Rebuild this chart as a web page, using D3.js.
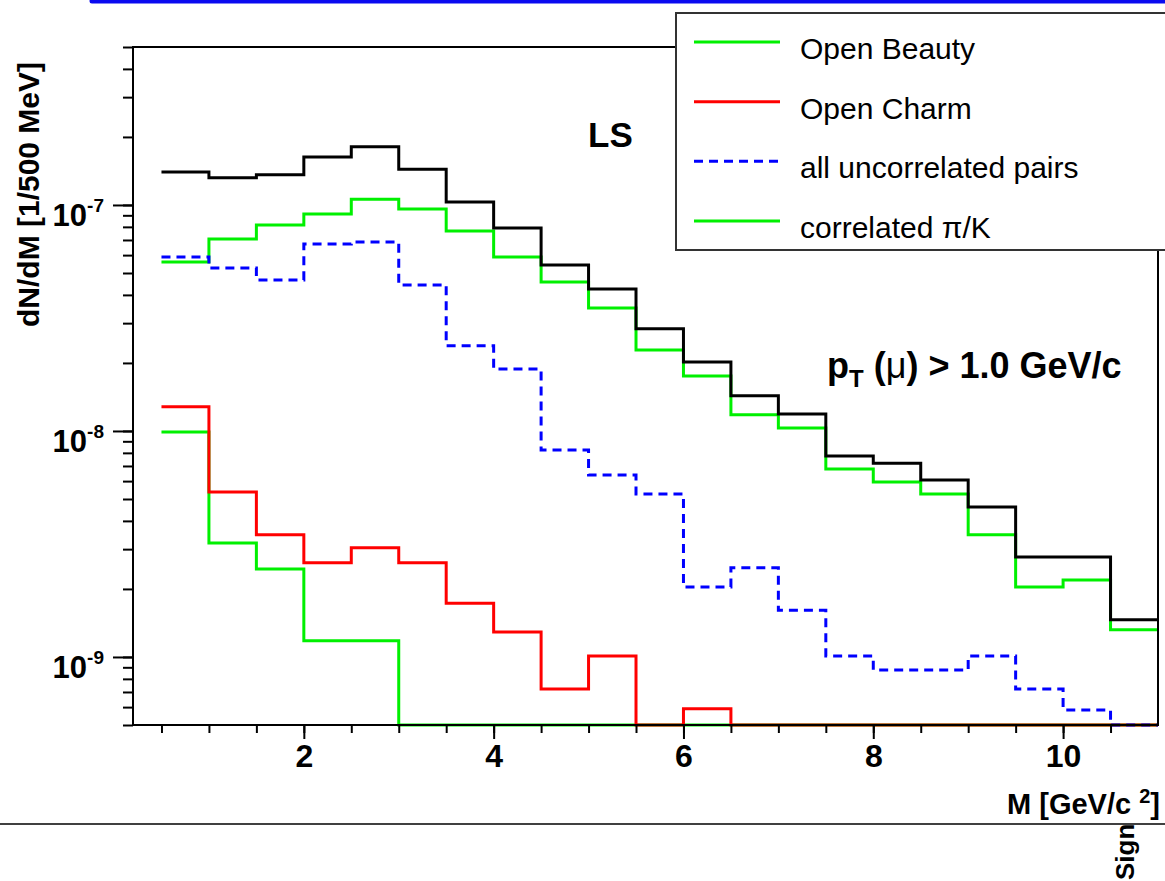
<!DOCTYPE html>
<html>
<head>
<meta charset="utf-8">
<script src="https://cdn.jsdelivr.net/npm/d3@7"></script>
<style>
	body { margin: 0; background: #fff; }
	svg { display: block; font-family: "Liberation Sans", Arial, sans-serif; }
	.axis path, .axis line { stroke: #000; stroke-width: 2; }
</style>
</head>
<body>
<div id="chart"></div>
<script>
// bin lower edges, bin width 0.5 GeV/c^2
const binLow = [0.5, 1, 1.5, 2, 2.5, 3, 3.5, 4, 4.5, 5, 5.5, 6, 6.5, 7, 7.5, 8, 8.5, 9, 9.5, 10, 10.5];
const binHigh = 11;

const total = [1.40e-7, 1.32e-7, 1.36e-7, 1.63e-7, 1.81e-7, 1.44e-7, 1.03e-7, 7.9e-8, 5.43e-8, 4.25e-8,
	2.83e-8, 2.02e-8, 1.43e-8, 1.19e-8, 7.75e-9, 7.2e-9, 6.07e-9, 4.61e-9, 2.77e-9, 2.77e-9, 1.46e-9];
const openBeauty = [5.6e-8, 7.07e-8, 8.16e-8, 9.13e-8, 1.06e-7, 9.6e-8, 7.67e-8, 5.89e-8, 4.56e-8, 3.5e-8,
	2.28e-8, 1.75e-8, 1.18e-8, 1.03e-8, 6.79e-9, 5.95e-9, 5.26e-9, 3.47e-9, 2.04e-9, 2.19e-9, 1.32e-9];
const uncorrelated = [5.89e-8, 5.26e-8, 4.66e-8, 6.72e-8, 6.86e-8, 4.43e-8, 2.38e-8, 1.88e-8, 8.24e-9, 6.39e-9,
	5.26e-9, 2.04e-9, 2.48e-9, 1.61e-9, 1.01e-9, 8.76e-10, 8.76e-10, 1.01e-9, 7.22e-10, 5.83e-10, 5.0e-10];
const openCharm = [1.28e-8, 5.37e-9, 3.47e-9, 2.61e-9, 3.04e-9, 2.61e-9, 1.73e-9, 1.29e-9, 7.22e-10, 1.01e-9,
	0, 5.9e-10, 0, 0, 0, 0, 0, 0, 0, 0, 0];
const correlatedPiK = [9.9e-9, 3.19e-9, 2.45e-9, 1.18e-9, 1.18e-9, 0, 0, 0, 0, 0,
	0, 0, 0, 0, 0, 0, 0, 0, 0, 0, 0];

const legendNames = ["Open Beauty", "Open Charm", "all uncorrelated pairs", "correlated  \u03c0/K"];
const xLabelTicks = [2, 4, 6, 8, 10];

const width = 1165;
const height = 881;
const margin = { top: 47, right: 7, bottom: 156, left: 133 };

const svg = d3.select("#chart")
	.append("svg")
	.attr("width", width)
	.attr("height", height);

// scales
const xScale = d3.scaleLinear()
	.domain([0.2, 11])
	.range([margin.left, width - margin.right]);

const yScale = d3.scaleLog()
	.domain([5e-10, 5e-7])
	.range([height - margin.bottom, margin.top])
	.clamp(true);
const yMin = yScale.domain()[0];

// top blue rule
svg.append("line")
	.attr("x1", 92).attr("y1", 1)
	.attr("x2", width + 5).attr("y2", 1)
	.attr("stroke", "#0a0af0")
	.attr("stroke-width", 5)
	.attr("stroke-linecap", "round");

// histograms
const line = d3.line()
	.x((d) => xScale(d[0]))
	.y((d) => yScale(Math.max(d[1], yMin)))
	.curve(d3.curveStepAfter);

function histo(values) {
	const pts = binLow.map((x, i) => [x, values[i]]);
	pts.push([binHigh, values[values.length - 1]]);
	return pts;
}

const green = "#00f000";
const series = [
	{ values: correlatedPiK, color: green, dash: null },
	{ values: openCharm, color: "#ff0000", dash: null },
	{ values: openBeauty, color: green, dash: null },
	{ values: uncorrelated, color: "#0000ff", dash: "9,6" },
	{ values: total, color: "#000", dash: null },
];
series.forEach((s) => {
	svg.append("path")
		.attr("d", line(histo(s.values)))
		.attr("fill", "none")
		.attr("stroke", s.color)
		.attr("stroke-width", 3)
		.attr("stroke-dasharray", s.dash);
});

// frame
svg.append("rect")
	.attr("x", margin.left)
	.attr("y", margin.top)
	.attr("width", width - margin.right - margin.left)
	.attr("height", height - margin.bottom - margin.top)
	.attr("fill", "none")
	.attr("stroke", "#000")
	.attr("stroke-width", 2);

// x axis
const xMinor = d3.axisBottom(xScale)
	.tickValues(d3.range(0.5, 11, 0.5))
	.tickSize(8)
	.tickFormat("");
svg.append("g")
	.attr("class", "axis")
	.attr("transform", `translate(0, ${height - margin.bottom})`)
	.call(xMinor)
	.call((g) => g.select(".domain").remove());

const xMajor = d3.axisBottom(xScale)
	.tickValues(xLabelTicks)
	.tickSize(14)
	.tickPadding(5)
	.tickFormat(d3.format("d"));
svg.append("g")
	.attr("class", "axis")
	.attr("transform", `translate(0, ${height - margin.bottom})`)
	.call(xMajor)
	.call((g) => g.select(".domain").remove())
	.selectAll("text")
	.attr("font-size", 32)
	.attr("font-weight", "bold")
	.attr("font-family", "Liberation Sans, Arial, sans-serif")
	.attr("fill", "#000");

// y axis
const yMinor = d3.axisLeft(yScale)
	.tickValues(yScale.ticks())
	.tickSize(10)
	.tickFormat("");
svg.append("g")
	.attr("class", "axis")
	.attr("transform", `translate(${margin.left}, 0)`)
	.call(yMinor)
	.call((g) => g.select(".domain").remove());

const decades = yScale.ticks().filter((v) => Math.abs(Math.log10(v) - Math.round(Math.log10(v))) < 1e-6);
const yMajor = d3.axisLeft(yScale)
	.tickValues(decades)
	.tickSize(20)
	.tickFormat("");
svg.append("g")
	.attr("class", "axis")
	.attr("transform", `translate(${margin.left}, 0)`)
	.call(yMajor)
	.call((g) => g.select(".domain").remove());

decades.forEach((v) => {
	const t = svg.append("text")
		.attr("x", 104)
		.attr("y", yScale(v) + 21)
		.attr("text-anchor", "end")
		.attr("font-size", 31)
		.attr("font-weight", "bold");
	t.append("tspan").text("10");
	t.append("tspan")
		.attr("dy", -14)
		.attr("font-size", 19)
		.text(Math.round(Math.log10(v)));
});

// axis titles
svg.append("text")
	.attr("x", width - 5)
	.attr("y", 814)
	.attr("text-anchor", "end")
	.attr("font-size", 29)
	.attr("font-weight", "bold")
	.html('M [GeV/c <tspan dy="-11" font-size="20">2</tspan><tspan dy="11">]</tspan>');

svg.append("text")
	.attr("transform", "translate(39, 327) rotate(-90)")
	.attr("font-size", 30)
	.attr("font-weight", "bold")
	.text("dN/dM [1/500 MeV]");

// annotations
svg.append("text")
	.attr("x", 588)
	.attr("y", 147)
	.attr("font-size", 35)
	.attr("font-weight", "bold")
	.text("LS");

const pt = svg.append("text")
	.attr("x", 827)
	.attr("y", 378)
	.attr("font-size", 36)
	.attr("font-weight", "bold");
pt.append("tspan").text("p");
pt.append("tspan").attr("dy", 9).attr("font-size", 24).text("T");
pt.append("tspan").attr("dy", -9).text(" (");
pt.append("tspan").attr("font-weight", "normal").text("\u03bc");
pt.append("tspan").text(") > 1.0 GeV/c");

// legend
const legend = svg.append("g");
legend.append("rect")
	.attr("x", 676)
	.attr("y", 13)
	.attr("width", 520)
	.attr("height", 237)
	.attr("fill", "#fff")
	.attr("stroke", "#333")
	.attr("stroke-width", 2);

const legendColors = [green, "#ff0000", "#0000ff", green];
const legendDash = [null, null, "9,6", null];
const legendY = d3.scalePoint()
	.domain(legendNames)
	.range([42, 221]);
legendNames.forEach((name, i) => {
	legend.append("line")
		.attr("x1", 694).attr("x2", 780)
		.attr("y1", legendY(name)).attr("y2", legendY(name))
		.attr("stroke", legendColors[i])
		.attr("stroke-width", 3)
		.attr("stroke-dasharray", legendDash[i]);
	legend.append("text")
		.attr("x", 800)
		.attr("y", legendY(name) + 17)
		.attr("font-size", 30)
		.text(name);
});

// bottom separator and label running off the page
svg.append("line")
	.attr("x1", 0).attr("x2", width)
	.attr("y1", 824).attr("y2", 824)
	.attr("stroke", "#000")
	.attr("stroke-width", 1.5);

svg.append("text")
	.attr("transform", "translate(1134, 880) rotate(-90)")
	.attr("font-size", 26)
	.attr("font-weight", "bold")
	.text("Sign");
</script>
</body>
</html>
